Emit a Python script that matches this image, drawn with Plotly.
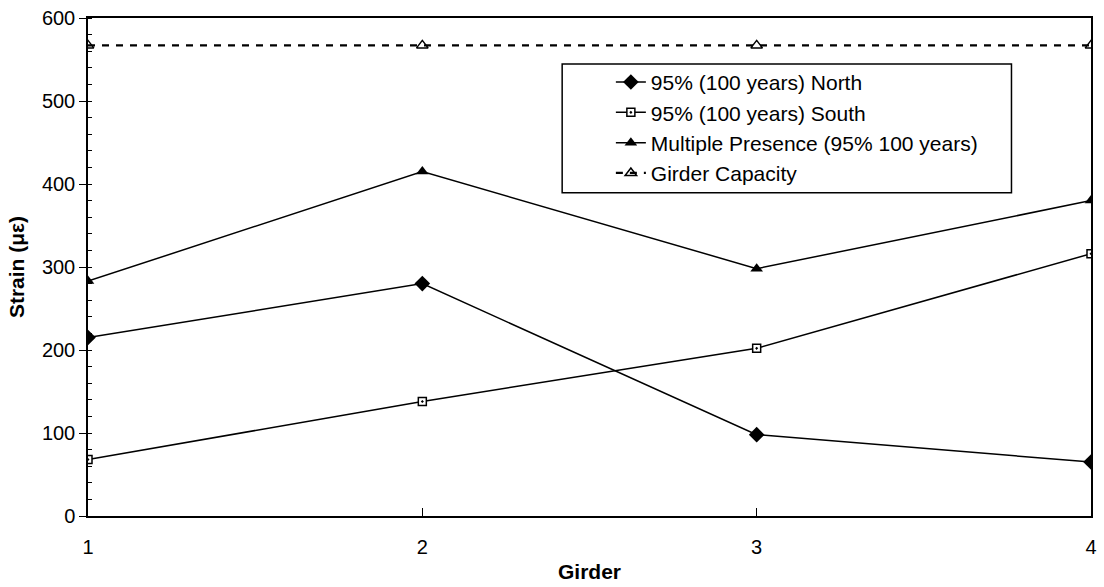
import plotly.graph_objects as go

girders = [1, 2, 3, 4]
north = [215, 280, 98, 65]
south = [68, 138, 202, 316]
multiple = [283, 415, 298, 380]
capacity = [567, 567, 567, 567]

FONT = "Liberation Sans, Arial, sans-serif"

fig = go.Figure()
fig.add_trace(go.Scatter(x=girders, y=north, name="95% (100 years) North", mode="lines+markers",
                         legendgroup="a",
                         line=dict(color="black", width=1.5),
                         marker=dict(symbol="diamond", size=12, color="black")))
fig.add_trace(go.Scatter(x=girders, y=south, name="95% (100 years) South", mode="lines+markers",
                         legendgroup="b",
                         line=dict(color="black", width=1.5),
                         marker=dict(symbol="square-dot", size=8, color="white",
                                     line=dict(color="black", width=1.5))))
fig.add_trace(go.Scatter(x=girders, y=multiple, name="Multiple Presence (95% 100 years)", mode="lines+markers",
                         legendgroup="c",
                         line=dict(color="black", width=1.5),
                         marker=dict(symbol="triangle-up", size=11, color="black")))
fig.add_trace(go.Scatter(x=girders, y=capacity, name="Girder Capacity", mode="lines+markers",
                         legendgroup="d",
                         line=dict(color="black", width=2.2, dash="7px,7px"),
                         marker=dict(symbol="triangle-up-open", size=10, color="black",
                                     line=dict(width=1.5))))

# legend frame (plot area spans px 88..1097 horizontally, 17..516 vertically)
def px_x(p):
    return (p - 88) / 1009.0

def px_y(p):
    return (516 - p) / 499.0

fig.add_shape(type="rect", xref="paper", yref="paper",
              x0=px_x(565), x1=px_x(1017), y0=px_y(192), y1=px_y(63),
              line=dict(color="black", width=1.5), fillcolor="white", layer="below")

fig.update_layout(
    width=1104, height=587,
    margin=dict(l=88, r=7, t=17, b=71),
    paper_bgcolor="white", plot_bgcolor="white",
    font=dict(family=FONT, size=20, color="black"),
    showlegend=True,
    legend=dict(x=px_x(614), y=px_y(61), xanchor="left", yanchor="top",
                borderwidth=0, bgcolor="rgba(0,0,0,0)",
                font=dict(size=21), tracegroupgap=0),
    xaxis=dict(range=[1, 4], tickvals=[1, 2, 3, 4], showgrid=False, zeroline=False,
               showline=True, linecolor="black", linewidth=1.5, mirror=True,
               ticks="inside", ticklen=8, tickcolor="black", ticklabelstandoff=12,
               title=dict(text="<b>Girder</b>", font=dict(size=21), standoff=8)),
    yaxis=dict(range=[0, 600], dtick=100, showgrid=False, zeroline=False,
               showline=True, linecolor="black", linewidth=1.5, mirror=True,
               ticks="outside", ticklen=7, tickcolor="black",
               minor=dict(dtick=20, ticks="inside", ticklen=4, tickcolor="black"),
               title=dict(text="<b>Strain (με)</b>", font=dict(size=21), standoff=12)),
)

fig.write_html("out.html")
